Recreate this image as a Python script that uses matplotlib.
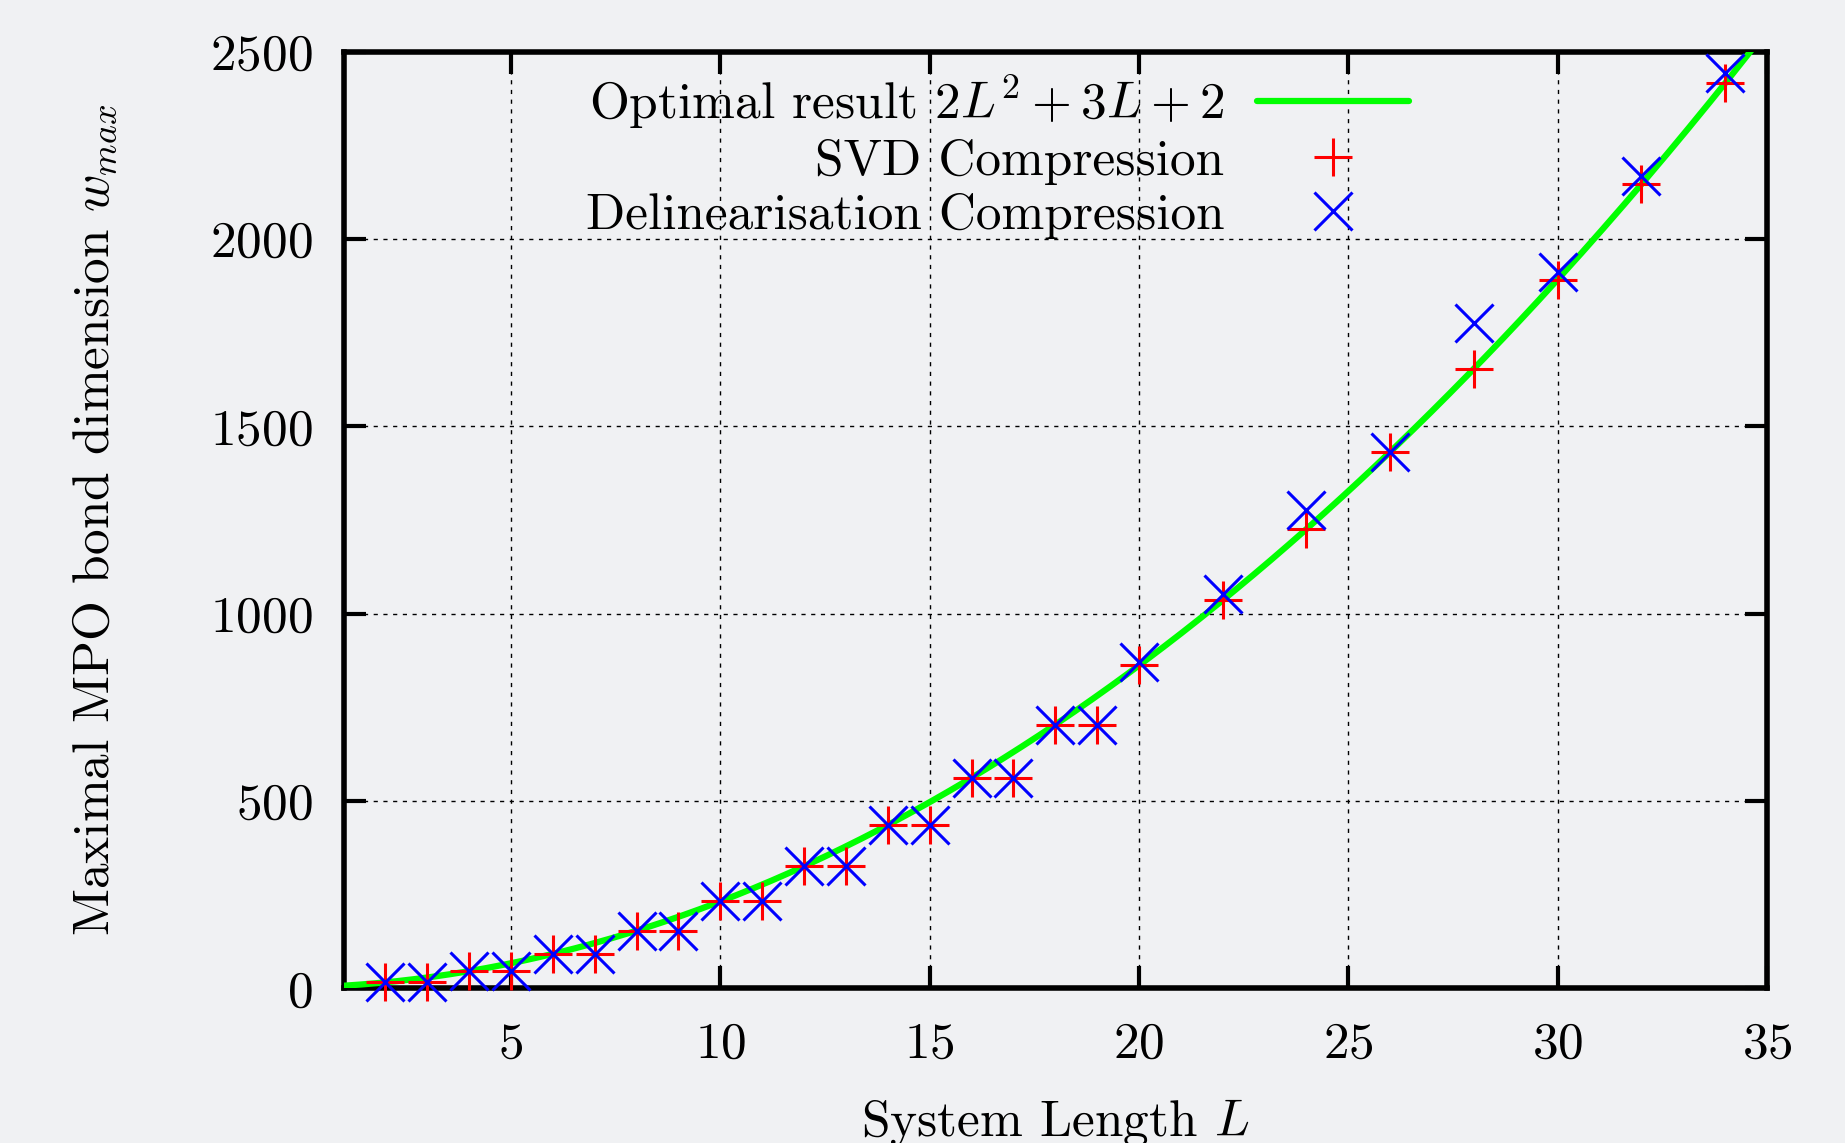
import numpy as np
import matplotlib
matplotlib.use("Agg")
import matplotlib.pyplot as plt
from matplotlib.lines import Line2D

# ---- data ----
L_points = [2, 3, 4, 5, 6, 7, 8, 9, 10, 11, 12, 13, 14, 15, 16, 17, 18, 19,
            20, 22, 24, 26, 28, 30, 32, 34]
svd_w = [16, 16, 46, 46, 92, 92, 154, 154, 232, 232, 326, 326, 436, 436,
         562, 562, 704, 704, 862, 1036, 1226, 1432, 1654, 1892, 2146, 2416]
delin_w = [16, 16, 46, 46, 92, 92, 154, 154, 232, 232, 326, 326, 436, 436,
           562, 562, 704, 704, 870, 1052, 1278, 1432, 1775, 1912, 2168, 2444]
# optimal result coefficients: a L^2 + b L + c
opt_coef = [2, 3, 2]
x_ticks = [5, 10, 15, 20, 25, 30, 35]
y_ticks = [0, 500, 1000, 1500, 2000, 2500]

bg = "#f0f1f3"
FS = 37
plt.rcParams['font.family'] = ['cmr10']
plt.rcParams['mathtext.fontset'] = 'cm'
plt.rcParams['axes.formatter.use_mathtext'] = True

fig = plt.figure(figsize=(18.45, 11.43), dpi=100, facecolor=bg)
ax = fig.add_axes([0.1862, 0.1353, 0.7715, 0.8194])
ax.set_facecolor(bg)

Lc = np.linspace(1, 35, 400)
opt = np.polyval(opt_coef, Lc)
ax.plot(Lc, opt, color="#00ff00", lw=4.5, solid_capstyle='round', zorder=3)
ax.plot(L_points, svd_w, ls='none', marker='+', ms=27, mew=2.2, color='red',
        clip_on=False, zorder=4)
ax.plot(L_points, delin_w, ls='none', marker='x', ms=27, mew=2.2, color='blue',
        clip_on=False, zorder=5)

ax.set_xlim(1, 35)
ax.set_ylim(0, 2500)
ax.set_xticks(x_ticks)
ax.set_yticks(y_ticks)
ax.tick_params(direction='in', length=16, width=3, top=True, right=True,
               labelsize=FS)
ax.tick_params(axis='x', pad=24)
ax.tick_params(axis='y', pad=22)
ax.grid(True, color='black', lw=1.0, linestyle=(0, (3, 4)))
ax.set_axisbelow(True)
for s in ax.spines.values():
    s.set_linewidth(4)

ax.set_xlabel(r"System Length $L$", fontsize=FS)
ax.xaxis.set_label_coords(0.5, -0.116)
ax.set_ylabel(r"Maximal MPO bond dimension $w_{max}$", fontsize=FS)
ax.yaxis.set_label_coords(-0.157, 0.5)

handles = [
    Line2D([], [], color="#00ff00", lw=4.5, solid_capstyle='round'),
    Line2D([], [], ls='none', marker='+', ms=27, mew=2.2, color='red'),
    Line2D([], [], ls='none', marker='x', ms=27, mew=2.2, color='blue'),
]
labels = [r"Optimal result $\mathit{2L}^{2}+\mathit{3L}+2$",
          "SVD Compression", "Delinearisation Compression"]
ax.legend(handles, labels, loc='upper right', bbox_to_anchor=(0.7483, 0.977),
          markerfirst=False, frameon=False, handlelength=2.95,
          handletextpad=0.64, labelspacing=0.15, borderpad=0, borderaxespad=0,
          fontsize=FS, numpoints=1)

fig.savefig("out.png", dpi=100, facecolor=bg)
